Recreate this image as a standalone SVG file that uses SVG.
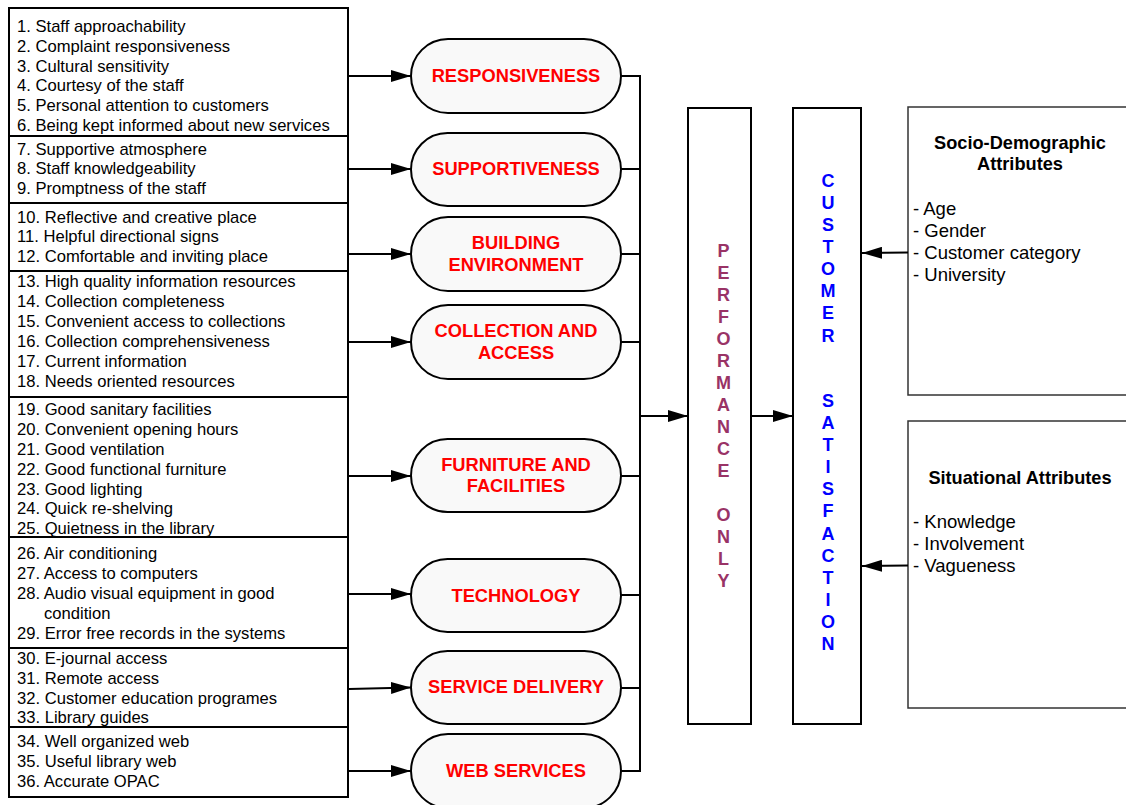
<svg xmlns="http://www.w3.org/2000/svg" width="1126" height="805" viewBox="0 0 1126 805">
<style>
.bg{fill:#ffffff}
.lbox{fill:#ffffff;stroke:#000;stroke-width:2}
.rbox{fill:#ffffff;stroke:#333;stroke-width:1.5}
.pill{fill:#f9f9f9;stroke:#000;stroke-width:2}
.item{font-family:"Liberation Sans",Arial,sans-serif;font-size:16.6px;fill:#000}
.ptxt{font-family:"Liberation Sans",Arial,sans-serif;font-size:18.3px;font-weight:bold;fill:#ff0000;text-anchor:middle}
.perf{font-family:"Liberation Sans",Arial,sans-serif;font-size:18px;font-weight:bold;fill:#993366;text-anchor:middle}
.cust{font-family:"Liberation Sans",Arial,sans-serif;font-size:18px;font-weight:bold;fill:#0000ff;text-anchor:middle}
.rtitle{font-family:"Liberation Sans",Arial,sans-serif;font-size:18.2px;font-weight:bold;fill:#000;text-anchor:middle}
.ritem{font-family:"Liberation Sans",Arial,sans-serif;font-size:18.5px;fill:#000}
.con{fill:none;stroke:#000;stroke-width:2}
</style>
<defs>
<marker id="arr" markerUnits="userSpaceOnUse" markerWidth="20" markerHeight="12" refX="20" refY="6" orient="auto">
<path d="M0,0 L20,6 L0,12 Z" fill="#000"/>
</marker>
</defs>
<rect class="bg" x="0" y="0" width="1126" height="805"/>

<g id="items-responsiveness">
<rect class="lbox" x="9" y="8" width="339" height="128"/>
<text class="item" x="17" y="32">1. Staff approachability</text>
<text class="item" x="17" y="52">2. Complaint responsiveness</text>
<text class="item" x="17" y="72">3. Cultural sensitivity</text>
<text class="item" x="17" y="91">4. Courtesy of the staff</text>
<text class="item" x="17" y="111">5. Personal attention to customers</text>
<text class="item" x="17" y="131">6. Being kept informed about new services</text>
</g>
<g id="items-supportiveness">
<rect class="lbox" x="9" y="136" width="339" height="67"/>
<text class="item" x="17" y="155">7. Supportive atmosphere</text>
<text class="item" x="17" y="174">8. Staff knowledgeability</text>
<text class="item" x="17" y="194">9. Promptness of the staff</text>
</g>
<g id="items-building">
<rect class="lbox" x="9" y="203" width="339" height="68"/>
<text class="item" x="17" y="223">10. Reflective and creative place</text>
<text class="item" x="17" y="242">11. Helpful directional signs</text>
<text class="item" x="17" y="262">12. Comfortable and inviting place</text>
</g>
<g id="items-collection">
<rect class="lbox" x="9" y="271" width="339" height="126"/>
<text class="item" x="17" y="287">13. High quality information resources</text>
<text class="item" x="17" y="307">14. Collection completeness</text>
<text class="item" x="17" y="327">15. Convenient access to collections</text>
<text class="item" x="17" y="347">16. Collection comprehensiveness</text>
<text class="item" x="17" y="367">17. Current information</text>
<text class="item" x="17" y="387">18. Needs oriented resources</text>
</g>
<g id="items-furniture">
<rect class="lbox" x="9" y="397" width="339" height="140"/>
<text class="item" x="17" y="415">19. Good sanitary facilities</text>
<text class="item" x="17" y="435">20. Convenient opening hours</text>
<text class="item" x="17" y="455">21. Good ventilation</text>
<text class="item" x="17" y="475">22. Good functional furniture</text>
<text class="item" x="17" y="495">23. Good lighting</text>
<text class="item" x="17" y="514">24. Quick re-shelving</text>
<text class="item" x="17" y="534">25. Quietness in the library</text>
<line x1="9" y1="537" x2="348" y2="537" stroke="#000" stroke-width="2"/>
</g>
<g id="items-technology">
<rect class="lbox" x="9" y="537" width="339" height="111"/>
<text class="item" x="17" y="559">26. Air conditioning</text>
<text class="item" x="17" y="579">27. Access to computers</text>
<text class="item" x="17" y="599">28. Audio visual equipment in good</text>
<text class="item" x="44" y="619">condition</text>
<text class="item" x="17" y="639">29. Error free records in the systems</text>
</g>
<g id="items-service">
<rect class="lbox" x="9" y="648" width="339" height="79"/>
<text class="item" x="17" y="664">30. E-journal access</text>
<text class="item" x="17" y="684">31. Remote access</text>
<text class="item" x="17" y="704">32. Customer education programes</text>
<text class="item" x="17" y="723">33. Library guides</text>
<line x1="9" y1="727" x2="348" y2="727" stroke="#000" stroke-width="2"/>
</g>
<g id="items-web">
<rect class="lbox" x="9" y="727" width="339" height="70"/>
<text class="item" x="17" y="747">34. Well organized web</text>
<text class="item" x="17" y="767">35. Useful library web</text>
<text class="item" x="17" y="787">36. Accurate OPAC</text>
</g>

<g id="responsiveness">
<rect class="pill" x="411" y="39" width="210" height="74" rx="37" ry="37"/>
<text class="ptxt" x="516" y="82">RESPONSIVENESS</text>
</g>
<g id="supportiveness">
<rect class="pill" x="411" y="133" width="210" height="73" rx="36.5" ry="36.5"/>
<text class="ptxt" x="516" y="175">SUPPORTIVENESS</text>
</g>
<g id="building">
<rect class="pill" x="411" y="217" width="210" height="74" rx="37" ry="37"/>
<text class="ptxt" x="516" y="249">BUILDING</text>
<text class="ptxt" x="516" y="271">ENVIRONMENT</text>
</g>
<g id="collection">
<rect class="pill" x="411" y="305" width="210" height="74" rx="37" ry="37"/>
<text class="ptxt" x="516" y="337">COLLECTION AND</text>
<text class="ptxt" x="516" y="359">ACCESS</text>
</g>
<g id="furniture">
<rect class="pill" x="411" y="439" width="210" height="73" rx="36.5" ry="36.5"/>
<text class="ptxt" x="516" y="471">FURNITURE AND</text>
<text class="ptxt" x="516" y="492">FACILITIES</text>
</g>
<g id="technology">
<rect class="pill" x="411" y="559" width="210" height="73" rx="36.5" ry="36.5"/>
<text class="ptxt" x="516" y="602">TECHNOLOGY</text>
</g>
<g id="service">
<rect class="pill" x="411" y="651" width="210" height="73" rx="36.5" ry="36.5"/>
<text class="ptxt" x="516" y="693">SERVICE DELIVERY</text>
</g>
<g id="web">
<rect class="pill" x="411" y="734" width="210" height="74" rx="37" ry="37"/>
<text class="ptxt" x="516" y="777">WEB SERVICES</text>
</g>

<g id="performance">
<rect class="lbox" x="688" y="108" width="63" height="616"/>
<text class="perf" x="723.5" y="257">P</text>
<text class="perf" x="723.5" y="279">E</text>
<text class="perf" x="723.5" y="301">R</text>
<text class="perf" x="723.5" y="323">F</text>
<text class="perf" x="723.5" y="345">O</text>
<text class="perf" x="723.5" y="367">R</text>
<text class="perf" x="723.5" y="389">M</text>
<text class="perf" x="723.5" y="411">A</text>
<text class="perf" x="723.5" y="433">N</text>
<text class="perf" x="723.5" y="455">C</text>
<text class="perf" x="723.5" y="477">E</text>
<text class="perf" x="723.5" y="521">O</text>
<text class="perf" x="723.5" y="543">N</text>
<text class="perf" x="723.5" y="565">L</text>
<text class="perf" x="723.5" y="587">Y</text>
</g>
<g id="customer">
<rect class="lbox" x="793" y="108" width="68" height="616"/>
<text class="cust" x="828" y="187">C</text>
<text class="cust" x="828" y="209">U</text>
<text class="cust" x="828" y="231">S</text>
<text class="cust" x="828" y="253">T</text>
<text class="cust" x="828" y="275">O</text>
<text class="cust" x="828" y="297">M</text>
<text class="cust" x="828" y="319">E</text>
<text class="cust" x="828" y="342">R</text>
<text class="cust" x="828" y="407">S</text>
<text class="cust" x="828" y="429">A</text>
<text class="cust" x="828" y="451">T</text>
<text class="cust" x="828" y="473">I</text>
<text class="cust" x="828" y="495">S</text>
<text class="cust" x="828" y="517">F</text>
<text class="cust" x="828" y="540">A</text>
<text class="cust" x="828" y="562">C</text>
<text class="cust" x="828" y="584">T</text>
<text class="cust" x="828" y="606">I</text>
<text class="cust" x="828" y="628">O</text>
<text class="cust" x="828" y="650">N</text>
</g>

<g id="socio">
<rect class="rbox" x="908" y="107" width="230" height="288"/>
<text class="rtitle" x="1020" y="149">Socio-Demographic</text>
<text class="rtitle" x="1020" y="170">Attributes</text>
<text class="ritem" x="913" y="215">- Age</text>
<text class="ritem" x="913" y="237">- Gender</text>
<text class="ritem" x="913" y="259">- Customer category</text>
<text class="ritem" x="913" y="281">- University</text>
</g>
<g id="situational">
<rect class="rbox" x="908" y="421" width="230" height="287"/>
<text class="rtitle" x="1020" y="484">Situational Attributes</text>
<text class="ritem" x="913" y="528">- Knowledge</text>
<text class="ritem" x="913" y="550">- Involvement</text>
<text class="ritem" x="913" y="572">- Vagueness</text>
</g>

<g id="connectors">
<line class="con" x1="349" y1="76" x2="411" y2="76" marker-end="url(#arr)"/>
<line class="con" x1="349" y1="169" x2="411" y2="169" marker-end="url(#arr)"/>
<line class="con" x1="349" y1="254" x2="411" y2="254" marker-end="url(#arr)"/>
<line class="con" x1="349" y1="342" x2="411" y2="342" marker-end="url(#arr)"/>
<line class="con" x1="349" y1="476" x2="411" y2="476" marker-end="url(#arr)"/>
<line class="con" x1="349" y1="594" x2="411" y2="594" marker-end="url(#arr)"/>
<line class="con" x1="349" y1="689" x2="411" y2="687.5" marker-end="url(#arr)"/>
<line class="con" x1="349" y1="771" x2="411" y2="771" marker-end="url(#arr)"/>
<path class="con" d="M621,76 H640 M621,169 H640 M621,254 H640 M621,342 H640 M621,476 H640 M621,595 H640 M621,688 H640 M621,771 H640 M640,75 V772"/>
<line class="con" x1="640" y1="416" x2="688" y2="416" marker-end="url(#arr)"/>
<line class="con" x1="751" y1="416" x2="793" y2="416" marker-end="url(#arr)"/>
<line class="con" x1="908" y1="252.5" x2="862" y2="253" marker-end="url(#arr)"/>
<line class="con" x1="908" y1="565.5" x2="862" y2="566" marker-end="url(#arr)"/>
</g>
</svg>
